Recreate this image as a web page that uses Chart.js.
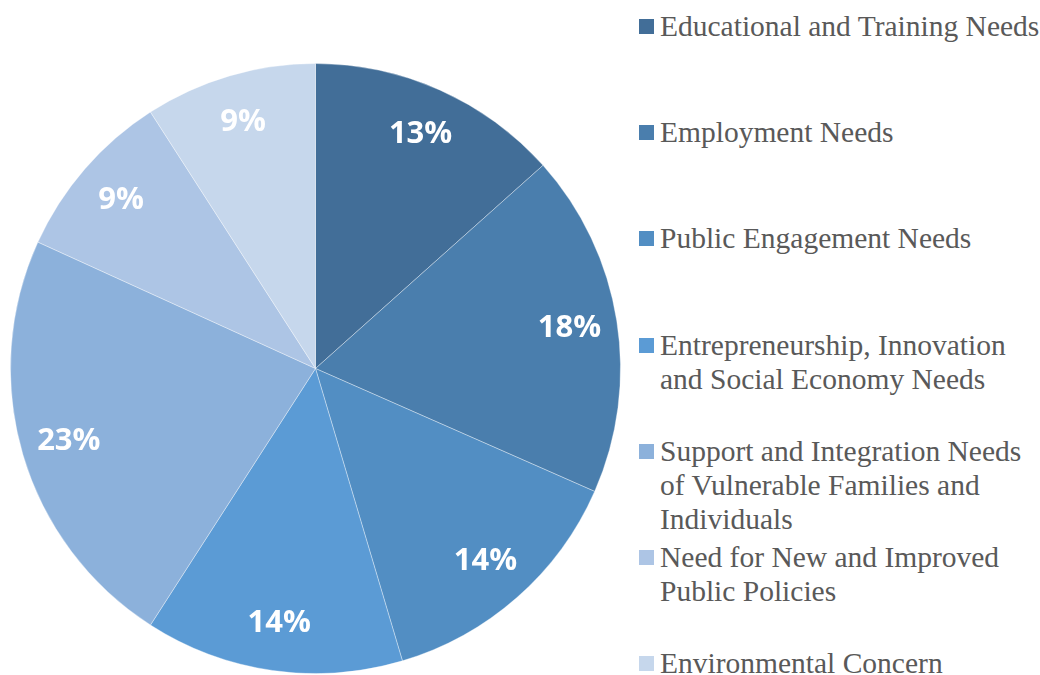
<!DOCTYPE html>
<html>
<head>
<meta charset="utf-8">
<script src="https://cdn.jsdelivr.net/npm/chart.js@4/dist/chart.umd.min.js"></script>
<style>
    html, body { margin: 0; padding: 0; background: #fff; overflow: hidden; }
    #wrap { position: relative; width: 1040px; height: 675px; }
    #chartBox { position: absolute; left: 0; top: 0; width: 631px; height: 675px; }
    #legend { position: absolute; left: 0; top: 0; }
    .item { position: absolute; left: 639px; width: 410px; }
    .box { position: absolute; left: 0; top: 10px; width: 15px; height: 15px; }
    .txt {
        position: absolute; left: 21px; top: 0; width: 387px;
        font-family: "Liberation Serif", "Times New Roman", serif;
        font-size: 29.5px; line-height: 34px; color: #595959;
    }
</style>
</head>
<body>
<div id="wrap">
    <div id="chartBox"><canvas id="needsChart"></canvas></div>
    <div id="legend"></div>
</div>
<script>
// Categories and shares (percent)
const categories = [
    'Educational and Training Needs',
    'Employment Needs',
    'Public Engagement Needs',
    'Entrepreneurship, Innovation and Social Economy Needs',
    'Support and Integration Needs of Vulnerable Families and Individuals',
    'Need for New and Improved Public Policies',
    'Environmental Concern'
];
const shares = [13.4, 18.2, 13.8, 13.7, 22.7, 9.1, 9.1];
const sliceColors = ['#426E98', '#4A7EAD', '#528EC3', '#5B9BD5', '#8CB1DB', '#ADC5E5', '#C6D7EC'];

// Draws the percentage inside each slice
const pctLabels = {
    id: 'pctLabels',
    afterDatasetsDraw(chart) {
        const ctx = chart.ctx;
        const meta = chart.getDatasetMeta(0);
        const data = chart.data.datasets[0].data;
        const total = data.reduce((a, b) => a + b, 0);
        ctx.save();
        ctx.fillStyle = '#ffffff';
        ctx.font = 'bold 31px "Open Sans", sans-serif';
        ctx.textAlign = 'center';
        ctx.textBaseline = 'middle';
        meta.data.forEach(function (arc, i) {
            const p = arc.getProps(['x', 'y', 'startAngle', 'endAngle', 'outerRadius'], true);
            const mid = (p.startAngle + p.endAngle) / 2;
            const r = p.outerRadius * 0.843;
            const txt = Math.round(data[i] / total * 100) + '%';
            ctx.fillText(txt, p.x + Math.cos(mid) * r, p.y + Math.sin(mid) * r);
        });
        ctx.restore();
    }
};

const ctx = document.getElementById('needsChart').getContext('2d');
const chart = new Chart(ctx, {
    type: 'pie',
    data: {
        labels: categories,
        datasets: [{
            data: shares,
            backgroundColor: sliceColors,
            borderColor: 'rgba(255, 255, 255, 0.35)',
            borderWidth: 1
        }]
    },
    options: {
        responsive: true,
        maintainAspectRatio: false,
        animation: false,
        layout: { padding: { left: 10, right: 10, top: 63, bottom: 1 } },
        plugins: {
            legend: { display: false },
            tooltip: { enabled: false }
        }
    },
    plugins: [pctLabels]
});

// HTML legend so long names can wrap like the original
const legendEl = document.getElementById('legend');
const items = Chart.overrides.pie.plugins.legend.labels.generateLabels(chart);
items.forEach(function (it, i) {
    const row = document.createElement('div');
    row.className = 'item';
    row.style.top = (9 + i * 106.2) + 'px';
    const box = document.createElement('div');
    box.className = 'box';
    box.style.background = it.fillStyle;
    const txt = document.createElement('div');
    txt.className = 'txt';
    txt.textContent = it.text;
    row.appendChild(box);
    row.appendChild(txt);
    legendEl.appendChild(row);
});
</script>
</body>
</html>
